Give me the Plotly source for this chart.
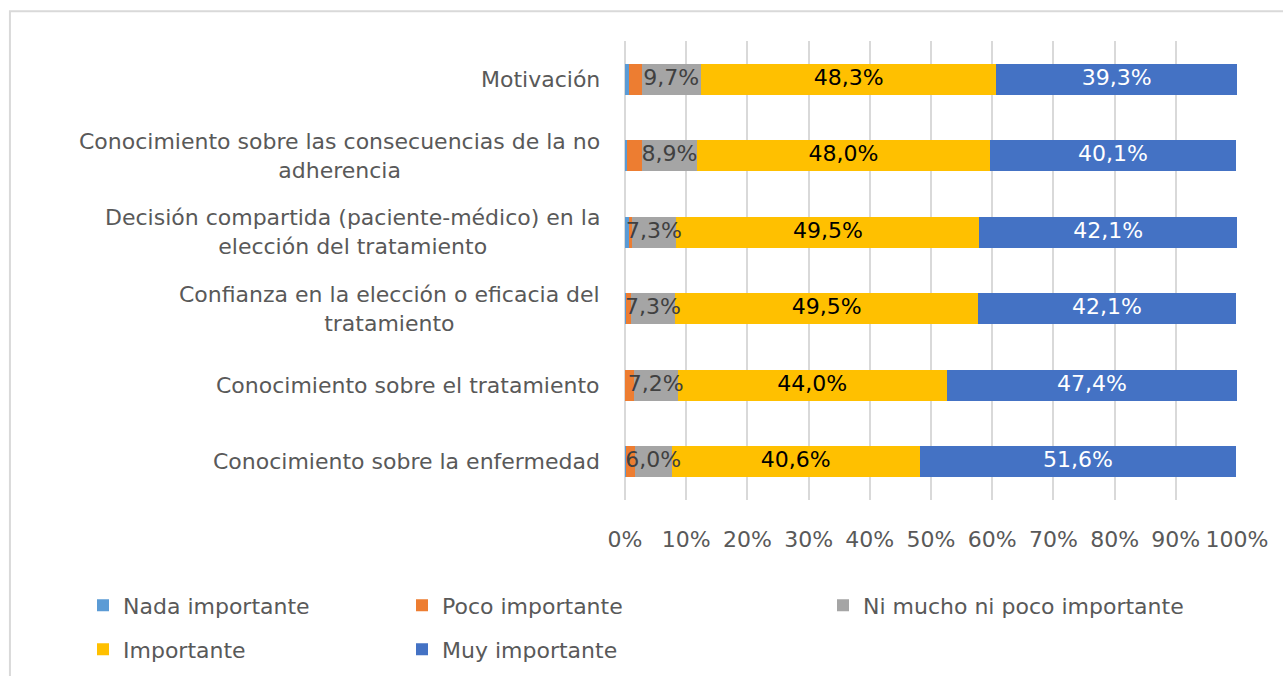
import plotly.graph_objects as go

# categories top to bottom, as printed on the chart
categories = [
    "Motivación",
    "Conocimiento sobre las consecuencias de la no adherencia",
    "Decisión compartida (paciente-médico) en la elección del tratamiento",
    "Confianza en la elección o eficacia del tratamiento",
    "Conocimiento sobre el tratamiento",
    "Conocimiento sobre la enfermedad",
]
category_labels = [
    "Motivación",
    "Conocimiento sobre las consecuencias de la no<br>adherencia",
    "Decisión compartida (paciente-médico) en la<br>elección del tratamiento",
    "Confianza en la elección o eficacia del<br>tratamiento",
    "Conocimiento sobre el tratamiento",
    "Conocimiento sobre la enfermedad",
]

nada = [0.6, 0.3, 0.6, 0.2, 0.0, 0.2]
poco = [2.1, 2.5, 0.5, 0.7, 1.4, 1.4]
ni = [9.7, 8.9, 7.3, 7.3, 7.2, 6.0]
importante = [48.3, 48.0, 49.5, 49.5, 44.0, 40.6]
muy = [39.3, 40.1, 42.1, 42.1, 47.4, 51.6]

tick_vals = [0, 10, 20, 30, 40, 50, 60, 70, 80, 90, 100]
tick_text = ["0%", "10%", "20%", "30%", "40%", "50%", "60%", "70%", "80%", "90%", "100%"]

FONT = "DejaVu Sans"
FS = 22
GREY_TXT = "#595959"

series = [
    ("Nada importante", nada, "#5B9BD5", None, "legend"),
    ("Poco importante", poco, "#ED7D31", None, "legend2"),
    ("Ni mucho ni poco importante", ni, "#A5A5A5", "#404040", "legend3"),
    ("Importante", importante, "#FFC000", "#000000", "legend4"),
    ("Muy importante", muy, "#4472C4", "#FFFFFF", "legend5"),
]


def pct(v):
    return f"{v:.1f}%".replace(".", ",")


fig = go.Figure()
base = [0.0] * len(categories)
for name, vals, color, txt_color, leg in series:
    fig.add_trace(go.Bar(
        y=categories,
        x=vals,
        name=name,
        orientation="h",
        marker=dict(color=color, line=dict(width=0)),
        width=0.41,
        legend=leg,
    ))
    if txt_color:
        # data labels centred on each segment, allowed to spill over
        fig.add_trace(go.Scatter(
            y=categories,
            x=[b + v / 2 for b, v in zip(base, vals)],
            mode="text",
            text=[pct(v) for v in vals],
            textposition="middle center",
            textfont=dict(family=FONT, size=FS, color=txt_color),
            showlegend=False, hoverinfo="skip", cliponaxis=False,
        ))
    base = [b + v for b, v in zip(base, vals)]

# category labels, centred line by line like the original
for cat, lab in zip(categories, category_labels):
    fig.add_annotation(
        x=-0.037, xref="paper", y=cat, yref="y",
        text=lab, showarrow=False, xanchor="right", align="center",
        font=dict(family=FONT, size=FS, color=GREY_TXT),
    )

# outer chart border
fig.add_shape(
    type="rect", xref="paper", yref="paper",
    x0=-1.005, x1=1.09, y0=-0.42, y1=1.065,
    line=dict(color="#D9D9D9", width=2), fillcolor="rgba(0,0,0,0)",
    layer="below",
)

leg_common = dict(
    orientation="v", xref="container", yref="container",
    xanchor="left", yanchor="middle", bgcolor="rgba(0,0,0,0)",
    borderwidth=0, font=dict(family=FONT, size=FS, color=GREY_TXT),
)
# pixel position where each legend entry's text starts, and its row centre
leg_pos = {
    "legend": (123, 605.5),
    "legend2": (442, 605.5),
    "legend3": (863, 605.5),
    "legend4": (123, 649.5),
    "legend5": (442, 649.5),
}
legends = {}
for k, (px_x, px_y) in leg_pos.items():
    legends[k] = dict(leg_common, x=(px_x - 40) / 1283, y=1 - px_y / 676)

fig.update_layout(
    width=1283, height=676,
    margin=dict(l=625, r=46, t=41, b=176, autoexpand=False),
    paper_bgcolor="white", plot_bgcolor="white",
    barmode="stack",
    xaxis=dict(
        range=[0, 100], tickvals=tick_vals, ticktext=tick_text,
        showgrid=True, gridcolor="#D9D9D9", gridwidth=2,
        zeroline=True, zerolinecolor="#D9D9D9", zerolinewidth=2,
        showline=False, ticks="", ticklabelstandoff=24,
        tickfont=dict(family=FONT, size=FS, color=GREY_TXT),
        fixedrange=True,
    ),
    yaxis=dict(
        autorange="reversed", showticklabels=False, showgrid=False,
        zeroline=False, showline=False, ticks="",
    ),
    showlegend=True,
    **legends,
)

fig.write_html(
    "out.html",
    config={"displayModeBar": False},
    post_script="document.body.style.margin='0';",
)
